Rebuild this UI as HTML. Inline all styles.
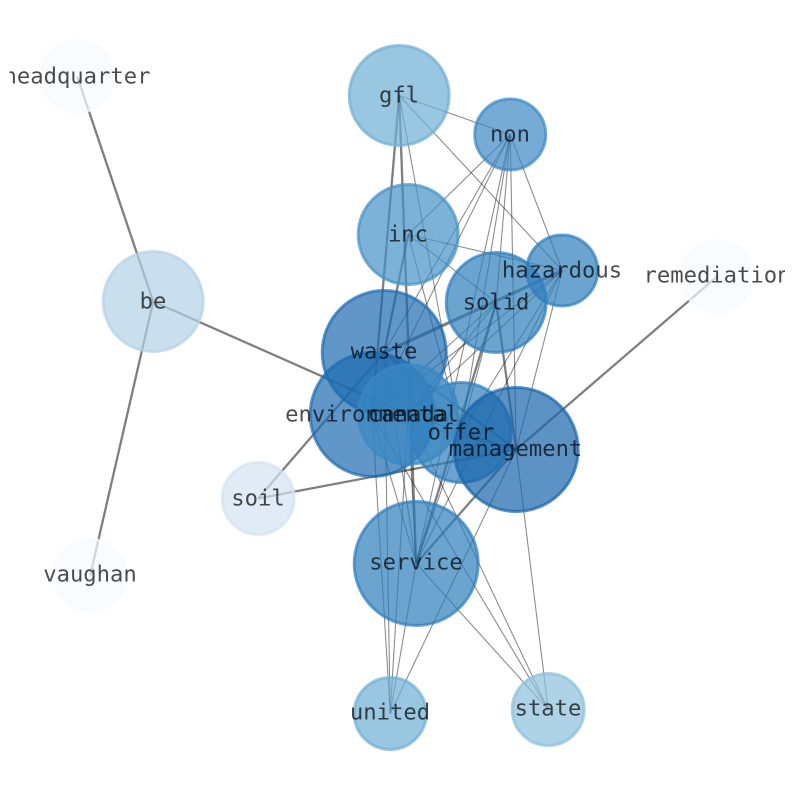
<!DOCTYPE html>
<html><head><meta charset="utf-8"><style>html,body{margin:0;padding:0;background:#fff}svg{display:block}
text{font-family:"DejaVu Sans Mono","Liberation Mono",monospace;font-size:22.2px;text-anchor:middle;fill:#000;fill-opacity:.7}
circle{stroke-width:3;fill-opacity:.7;stroke-opacity:.7}</style></head><body>
<svg width="794" height="790" viewBox="0 0 794 790" xmlns="http://www.w3.org/2000/svg">
<defs><clipPath id="c"><rect x="9.5" y="0" width="775.5" height="790"/></clipPath></defs>
<g transform="translate(.2 .5)">
<g stroke="#000" stroke-opacity=".5" fill="none">
<g stroke-width="2.3">
<line x1="153" y1="301" x2="77" y2="76"/><line x1="153" y1="301" x2="90" y2="575"/><line x1="153" y1="301" x2="408" y2="414"/>
<line x1="717" y1="276" x2="516" y2="449"/><line x1="258" y1="498" x2="384" y2="352"/><line x1="258" y1="498" x2="516" y2="449"/>
<line x1="384" y1="352" x2="516" y2="449"/><line x1="516" y1="449" x2="416" y2="563"/>
<line x1="399" y1="95" x2="372" y2="414"/><line x1="399" y1="95" x2="416" y2="563"/>
<line x1="408" y1="234" x2="384" y2="352"/><line x1="496" y1="302" x2="516" y2="449"/><line x1="496" y1="302" x2="416" y2="563"/>
</g>
<line x1="562" y1="270" x2="384" y2="352" stroke-width="3.2"/>
<g stroke-width="1.1" stroke-opacity=".45">
<line x1="399" y1="95" x2="510" y2="134"/><line x1="399" y1="95" x2="562" y2="270"/><line x1="399" y1="95" x2="461" y2="432"/>
<line x1="510" y1="134" x2="408" y2="234"/><line x1="510" y1="134" x2="384" y2="352"/><line x1="510" y1="134" x2="372" y2="414"/>
<line x1="510" y1="134" x2="496" y2="302"/><line x1="510" y1="134" x2="562" y2="270"/><line x1="510" y1="134" x2="461" y2="432"/><line x1="510" y1="134" x2="516" y2="449"/><line x1="510" y1="134" x2="416" y2="563"/>
<line x1="408" y1="234" x2="562" y2="270"/><line x1="408" y1="234" x2="496" y2="302"/><line x1="408" y1="234" x2="461" y2="432"/>
<line x1="562" y1="270" x2="372" y2="414"/><line x1="562" y1="270" x2="408" y2="414"/><line x1="562" y1="270" x2="461" y2="432"/><line x1="562" y1="270" x2="516" y2="449"/><line x1="562" y1="270" x2="416" y2="563"/>
<line x1="496" y1="302" x2="372" y2="414"/><line x1="496" y1="302" x2="408" y2="414"/><line x1="496" y1="302" x2="461" y2="432"/>
<line x1="516" y1="449" x2="548" y2="709"/><line x1="516" y1="449" x2="390" y2="713"/><line x1="516" y1="449" x2="372" y2="414"/><line x1="516" y1="449" x2="408" y2="414"/><line x1="516" y1="449" x2="461" y2="432"/>
<line x1="416" y1="563" x2="548" y2="709"/><line x1="416" y1="563" x2="390" y2="713"/><line x1="416" y1="563" x2="384" y2="352"/><line x1="416" y1="563" x2="372" y2="414"/><line x1="416" y1="563" x2="408" y2="414"/><line x1="416" y1="563" x2="461" y2="432"/>
<line x1="390" y1="713" x2="384" y2="352"/><line x1="390" y1="713" x2="372" y2="414"/><line x1="390" y1="713" x2="408" y2="414"/>
<line x1="548" y1="709" x2="408" y2="414"/><line x1="548" y1="709" x2="372" y2="414"/>
<line x1="384" y1="352" x2="372" y2="414"/><line x1="384" y1="352" x2="408" y2="414"/><line x1="384" y1="352" x2="461" y2="432"/><line x1="372" y1="414" x2="408" y2="414"/><line x1="408" y1="414" x2="461" y2="432"/>
</g></g>
<circle cx="77" cy="76" r="36" fill="#f7fbff" stroke="#f7fbff"/>
<circle cx="717" cy="276" r="36" fill="#f7fbff" stroke="#f7fbff"/>
<circle cx="90" cy="575" r="36" fill="#f7fbff" stroke="#f7fbff"/>
<circle cx="258" cy="498" r="36" fill="#d3e3f1" stroke="#d3e3f1"/>
<circle cx="153" cy="301" r="50" fill="#b3d1e7" stroke="#b3d1e7"/>
<circle cx="548" cy="709" r="36" fill="#8cbfdb" stroke="#8cbfdb"/>
<circle cx="390" cy="713" r="36" fill="#6eafd6" stroke="#6eafd6"/>
<circle cx="399" cy="95" r="50" fill="#6eafd6" stroke="#6eafd6"/>
<circle cx="408" cy="234" r="50" fill="#4592c8" stroke="#4592c8"/>
<circle cx="510" cy="134" r="35.5" fill="#3a88c3" stroke="#3a88c3"/>
<circle cx="496" cy="302" r="50" fill="#2e7ebc" stroke="#2e7ebc"/>
<circle cx="562" cy="270" r="35.5" fill="#2e7ebc" stroke="#2e7ebc"/>
<circle cx="461" cy="432" r="50" fill="#2e7ebc" stroke="#2e7ebc"/>
<circle cx="416" cy="563" r="62" fill="#2e7ebc" stroke="#2e7ebc"/>
<circle cx="384" cy="352" r="62" fill="#1c6bb0" stroke="#1c6bb0"/>
<circle cx="372" cy="414" r="62" fill="#1c6bb0" stroke="#1c6bb0"/>
<circle cx="516" cy="449" r="62" fill="#1764ab" stroke="#1764ab"/>
<circle cx="408" cy="414" r="50" fill="#3a88c3" stroke="#3a88c3"/>
</g>
<g clip-path="url(#c)">
<text x="77" y="83.5">headquarter</text>
<text x="399" y="102.5">gfl</text>
<text x="510" y="141.5">non</text>
<text x="408" y="241.5">inc</text>
<text x="562" y="277.5">hazardous</text>
<text x="717" y="282.5">remediation</text>
<text x="153" y="308.5">be</text>
<text x="496" y="309.5">solid</text>
<text x="384" y="358.5">waste</text>
<text x="372" y="421.5">environmental</text>
<text x="408" y="421.5">canada</text>
<text x="461" y="439.5">offer</text>
<text x="515.5" y="456">management</text>
<text x="258" y="505.5">soil</text>
<text x="416" y="569.5">service</text>
<text x="90" y="581.5">vaughan</text>
<text x="390" y="719.5">united</text>
<text x="548" y="715.5">state</text>
</g>
</svg></body></html>
